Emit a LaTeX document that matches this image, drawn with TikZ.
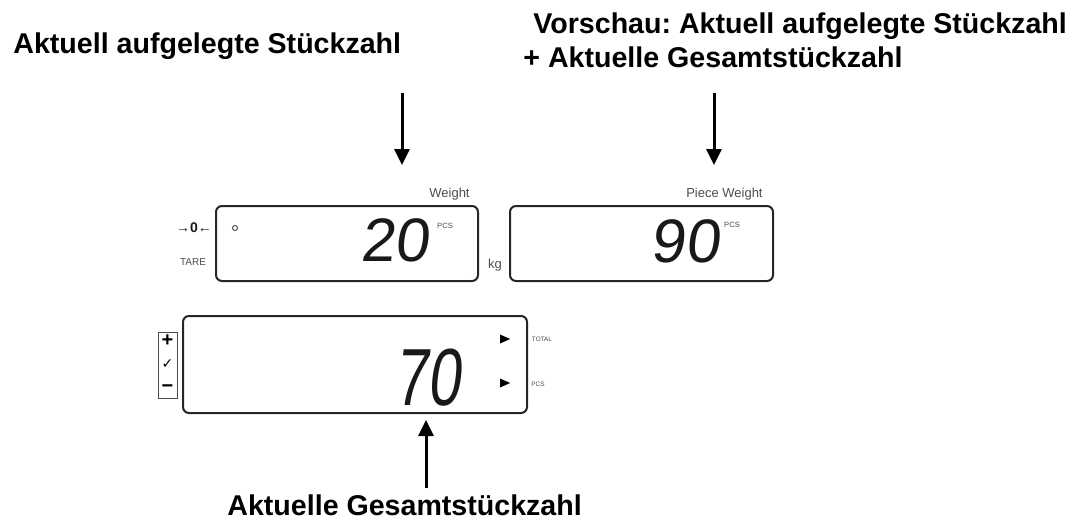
\documentclass[tikz,border=0pt]{standalone}
\usepackage{fontspec}
\setmainfont{Liberation Sans}
\newfontfamily\symfont{DejaVu Sans}
\newfontfamily\lcdfont{Liberation Sans}[FakeSlant=0.12]
\newfontfamily\lcdschmal{Liberation Sans}[FakeStretch=0.73,FakeSlant=0.12]
\usetikzlibrary{arrows.meta,positioning,shapes.geometric}
\frenchspacing
\tikzset{
  anzeige/.style={draw=black!85,line width=1pt,rounded corners=3pt,inner sep=0pt},
  ziffer/.style={font=\lcdfont\fontsize{30.7}{31}\selectfont,inner sep=0pt,text=black!90},
  klein/.style={font=\fontsize{6.5}{7}\selectfont,text=black!70,inner sep=0pt},
  winzig/.style={font=\fontsize{3.8}{4}\selectfont,text=black!70,inner sep=0pt},
  titel/.style={font=\fontsize{14.3}{17}\selectfont\bfseries,inner sep=0pt},
  pfeil/.style={-{Triangle[width=7.5pt,length=8pt]},line width=1.5pt},
  dreieck/.style={isosceles triangle,isosceles triangle apex angle=60,isosceles triangle stretches,
                  fill=black,inner sep=0pt,minimum width=4.5pt,minimum height=5pt},
}
\begin{document}
\begin{tikzpicture}[x=0.5pt,y=-0.5pt]
  \useasboundingbox (0,0) rectangle (1074,520);
  % Beschriftungen
  \node[titel,anchor=base west] (links) at (13,53) {Aktuell aufgelegte Stückzahl};
  \node[titel,anchor=base west] (rechtsa) at (533,33) {Vorschau: Aktuell aufgelegte Stückzahl};
  \node[titel,anchor=base west] (rechtsb) at (523,67) {+ Aktuelle Gesamtstückzahl};
  \node[titel,anchor=base west] (unten) at (227,515) {Aktuelle Gesamtstückzahl};
  % Anzeigen
  \node[anzeige,minimum width=131pt,minimum height=37.5pt] (gewicht) at (347,243.5) {};
  \node[anzeige,minimum width=131.5pt,minimum height=37.5pt] (stueck) at (641.5,243.5) {};
  \node[anzeige,minimum width=172pt,minimum height=48.5pt] (summe) at (355,364.5) {};
  \node[draw=black!70,line width=0.5pt,minimum width=9.5pt,minimum height=33pt,inner sep=0pt] (tasten) at (167.5,365) {};
  % obere Anzeige links
  \node[klein,anchor=base east] (lblw) at (470,197) {Weight};
  \node[klein,text=black!90,font=\fontsize{7}{7}\selectfont\bfseries] (null) at (194,228) {→0←};
  \node[klein,font=\fontsize{5}{6}\selectfont] (tara) at (193,262) {TARE};
  \node[draw=black!70,circle,inner sep=0pt,minimum size=2.5pt,line width=0.5pt] (punkt) at (235,228) {};
  \node[ziffer] (z20) at (395,240) {20};
  \node[winzig] (pcsa) at (445,226) {PCS};
  \node[klein] (kg) at (495,265) {kg};
  % obere Anzeige rechts
  \node[klein,anchor=base east] (lblp) at (763,197) {Piece Weight};
  \node[ziffer] (z90) at (685,241.5) {90};
  \node[winzig] (pcsb) at (732,225) {PCS};
  % untere Anzeige
  \node[ziffer,font=\lcdschmal\fontsize{40.5}{41}\selectfont] (z70) at (427.5,378) {70};
  \node[dreieck] (dra) at (503,339) {};
  \node[dreieck] (drb) at (503,383) {};
  \node[winzig,font=\fontsize{3.2}{4}\selectfont] (total) at (542,339) {TOTAL};
  \node[winzig,font=\fontsize{3.2}{4}\selectfont] (pcsc) at (538,384) {PCS};
  \node[font=\fontsize{10}{10}\selectfont\bfseries,inner sep=0pt] (plus) at (167.5,341) {+};
  \node[font=\symfont\fontsize{7}{7}\selectfont,inner sep=0pt] (haken) at (167.5,364) {✓};
  \node[font=\fontsize{10}{10}\selectfont\bfseries,inner sep=0pt] (minus) at (167.5,389) {−};
  % Pfeile
  \coordinate (pa1) at (402,93);  \coordinate (pa2) at (402,165);
  \coordinate (pb1) at (714,93);  \coordinate (pb2) at (714,165);
  \coordinate (pc1) at (426,488); \coordinate (pc2) at (426,420);
  \draw[pfeil] (pa1) -- (pa2);
  \draw[pfeil] (pb1) -- (pb2);
  \draw[pfeil] (pc1) -- (pc2);
\end{tikzpicture}
\end{document}
